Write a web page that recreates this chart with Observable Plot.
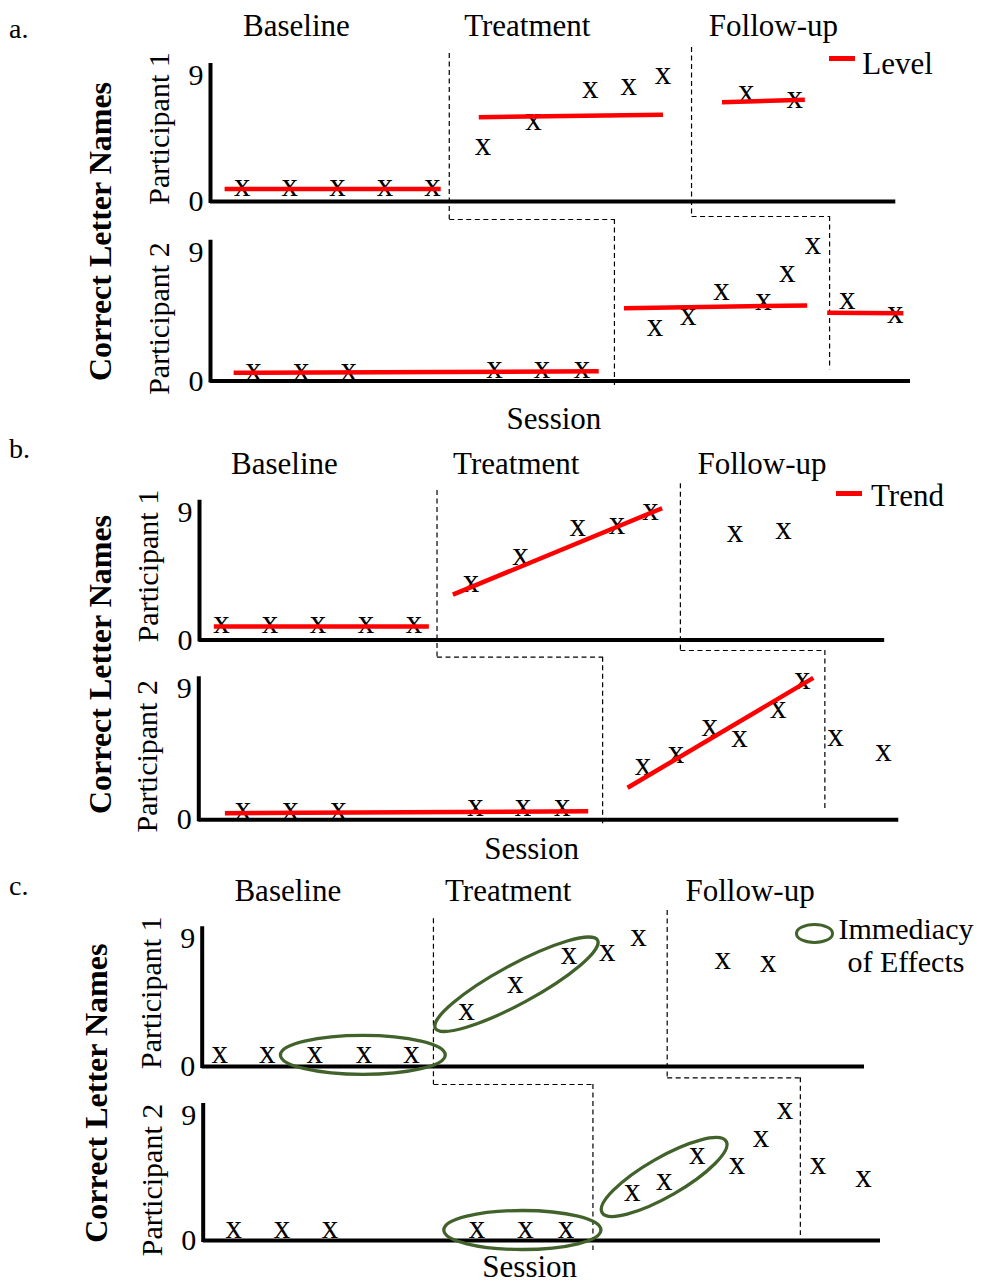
<!DOCTYPE html>
<html><head><meta charset="utf-8">
<script src="https://cdn.jsdelivr.net/npm/d3@7"></script>
<script src="https://cdn.jsdelivr.net/npm/@observablehq/plot@0.6"></script>
<style>
html,body{margin:0;padding:0;background:#fff;overflow:hidden;}
#fig{position:relative;width:985px;height:1283px;font-family:"Liberation Serif","Times New Roman",serif;color:#000;}
#fig svg{position:absolute;left:0;top:0;}
#fig svg text{font-family:"Liberation Serif","Times New Roman",serif;}
.lbl{position:absolute;white-space:nowrap;line-height:1;font-size:30px;}
</style></head><body>
<div id="fig">
  <div class="lbl" style="left:9px;top:14.9px;font-size:28px">a.</div>
  <div class="lbl" style="left:9px;top:434.9px;font-size:28px">b.</div>
  <div class="lbl" style="left:9px;top:871.6px;font-size:28px">c.</div>
  <div style="position:absolute;left:828.6px;top:56px;width:26.8px;height:4.5px;background:#ff0000"></div>
  <div class="lbl" style="left:862.3px;top:47.6px;font-size:31px">Level</div>
  <div style="position:absolute;left:836.2px;top:491px;width:26.1px;height:4.5px;background:#ff0000"></div>
  <div class="lbl" style="left:871px;top:479.9px;font-size:31px">Trend</div>
  <div style="position:absolute;left:795.2px;top:923.3px;width:39.3px;height:20.7px;border:3.3px solid #41622b;border-radius:50%;box-sizing:border-box"></div>
  <div style="position:absolute;left:906px;top:911.5px;transform:translateX(-50%);text-align:center;font-size:30px;line-height:33.4px;white-space:nowrap">Immediacy<br>of Effects</div>
</div>
<script>
// ---------- DATA ----------
const phaseNames = ["Baseline", "Treatment", "Follow-up"];
const yTicks = [0, 9];

// Panel a (Level): session position and correct letter names
const a1Session = [1, 2, 3, 4, 5, 6.06, 7.12, 8.31, 9.12, 9.84, 11.59, 12.61];
const a1Correct = [0.9, 0.9, 0.9, 0.9, 0.9, 3.88, 5.66, 7.93, 8.12, 8.93, 7.62, 7.21];
const a2Session = [1.24, 2.24, 3.24, 6.30, 7.30, 8.14, 9.67, 10.37, 11.07, 11.95, 12.45, 12.99, 13.71, 14.72];
const a2Correct = [0.61, 0.61, 0.61, 0.73, 0.73, 0.73, 3.65, 4.42, 6.21, 5.51, 7.42, 9.42, 5.58, 4.58];
const a1PhaseChange = [5.35, 10.44];
const a2PhaseChange = [8.82, 13.34];
const a1Level = [
  {x1: 0.63, y1: 0.9, x2: 5.17, y2: 0.9},
  {x1: 5.97, y1: 6.02, x2: 9.84, y2: 6.19},
  {x1: 11.08, y1: 7.09, x2: 12.82, y2: 7.26}
];
const a2Level = [
  {x1: 0.82, y1: 0.57, x2: 8.49, y2: 0.68},
  {x1: 9.02, y1: 5.09, x2: 12.87, y2: 5.28},
  {x1: 13.29, y1: 4.77, x2: 14.89, y2: 4.74}
];

// Panel b (Trend)
const b1Session = [1, 2.01, 3.01, 4.01, 5.01, 6.2, 7.23, 8.42, 9.24, 9.94, 11.7, 12.71];
const b1Correct = [1.02, 1.02, 1.02, 1.02, 1.02, 3.91, 5.79, 7.83, 7.99, 9.0, 7.41, 7.66];
const b2Session = [1.45, 2.44, 3.44, 6.29, 7.28, 8.1, 9.78, 10.47, 11.17, 11.79, 12.6, 13.1, 13.79, 14.79];
const b2Correct = [0.59, 0.59, 0.59, 0.76, 0.76, 0.76, 3.61, 4.42, 6.25, 5.49, 7.51, 9.52, 5.56, 4.53];
const b1PhaseChange = [5.49, 10.56];
const b2PhaseChange = [8.94, 13.57];
const b1Trend = [
  {x1: 0.84, y1: 0.95, x2: 5.32, y2: 0.95},
  {x1: 5.82, y1: 3.2, x2: 10.18, y2: 9.28}
];
const b2Trend = [
  {x1: 1.07, y1: 0.45, x2: 8.64, y2: 0.58},
  {x1: 9.46, y1: 2.2, x2: 13.33, y2: 9.75}
];

// Panel c (Immediacy of effects)
const c1Session = [1, 1.99, 2.98, 4.01, 5.0, 6.15, 7.17, 8.29, 9.09, 9.74, 11.5, 12.45];
const c1Correct = [0.78, 0.78, 0.78, 0.78, 0.78, 3.83, 5.71, 7.75, 7.98, 9.0, 7.42, 7.17];
const c2Session = [1.29, 2.3, 3.3, 6.37, 7.38, 8.23, 9.61, 10.28, 10.97, 11.8, 12.3, 12.8, 13.49, 14.44];
const c2Correct = [0.72, 0.72, 0.72, 0.72, 0.72, 0.72, 3.36, 4.2, 6.05, 5.33, 7.25, 9.31, 5.33, 4.37];
const c1PhaseChange = [5.46, 10.34];
const c2PhaseChange = [8.79, 13.12];
const c1Immediacy = [[2, 3, 4], [5, 6, 7]];   // indices of circled sessions
const c2Immediacy = [[3, 4, 5], [6, 7, 8]];

// ---------- LAYOUT ----------
const W = 985, H = 1283;
const green = "#41622b";
const layout = {
  a: {origin: 194.1, k: 47.6,
      rows: [{left: 210, right: 895.3, y9: 75, y0: 201}, {left: 210, right: 910, y9: 251.7, y0: 380.5}],
      headerX: [2.14, 6.99, 12.16], headerDy: -40, sessionX: 7.55, sessionDy: 47.5,
      ylabel: {dx: -100, dy: 30}, phaseTop: [-22, -28], conn: [18, 15], p2Bottom: [-4.5, 11.2]},
  b: {origin: 173, k: 48,
      rows: [{left: 199, right: 884.2, y9: 511.7, y0: 639.5}, {left: 198.3, right: 898.3, y9: 688.3, y0: 819.3}],
      headerX: [2.31, 7.14, 12.26], headerDy: -38.4, sessionX: 7.46, sessionDy: 39,
      ylabel: {dx: -89, dy: 24.5}, phaseTop: [-21.7, -28.4], conn: [17.2, 10.5], p2Bottom: [-4, 9.3]},
  c: {origin: 171.4, k: 47.9,
      rows: [{left: 201.7, right: 864, y9: 938.3, y0: 1066}, {left: 202.7, right: 880, y9: 1115, y0: 1240}],
      headerX: [2.42, 7.02, 12.07], headerDy: -38.3, sessionX: 7.47, sessionDy: 36.7,
      ylabel: {dx: -95.7, dy: 26.7}, phaseTop: [-20, -28.3], conn: [18, 11.3], p2Bottom: [-10, 5]}
};

const fig = document.getElementById("fig");
const toRows = (s, v) => s.map((d, i) => ({session: d, correct: v[i]}));

function rowPlot(L, rowIdx, data, lines, pcOwn, pcNext, immediacy) {
  const R = L.rows[rowIdx];
  const xd = [(R.left - L.origin) / L.k, (R.right - L.origin) / L.k];
  const dash = {stroke: "#000", strokeWidth: 1.2, strokeDasharray: "5,3.5"};
  const marks = [];
  if (rowIdx === 0) {
    pcOwn.forEach((b, i) => {
      marks.push(Plot.ruleX([b], {...dash, insetTop: L.phaseTop[i], insetBottom: -L.conn[i]}));
      marks.push(Plot.link([{from: b, to: pcNext[i]}], {x1: "from", x2: "to", y1: 0, y2: 0, dy: L.conn[i], ...dash}));
    });
  } else {
    const y0First = L.rows[0].y0;
    pcOwn.forEach((b, i) => {
      marks.push(Plot.ruleX([b], {...dash, insetTop: (y0First + L.conn[i]) - R.y9, insetBottom: L.p2Bottom[i]}));
    });
  }
  // axes lines
  marks.push(Plot.ruleY([0], {strokeWidth: 4}));
  marks.push(Plot.ruleX([xd[0]], {strokeWidth: 4, insetTop: -12, insetBottom: -2}));
  // data markers
  marks.push(Plot.text(data, {x: "session", y: "correct", text: () => "x", fontSize: 33, dy: -3}));
  if (lines) marks.push(Plot.link(lines, {x1: "x1", y1: "y1", x2: "x2", y2: "y2", stroke: "#ff0000", strokeWidth: 4.5}));
  // labels
  marks.push(Plot.text([`Participant ${rowIdx + 1}`], {frameAnchor: "left", textAnchor: "middle", rotate: -90, dx: -51, dy: rowIdx === 0 ? -10 : 2, fontSize: 30}));
  if (rowIdx === 0) {
    marks.push(Plot.text(phaseNames, {x: (d, i) => L.headerX[i], frameAnchor: "top", textAnchor: "middle", lineAnchor: "bottom", dy: L.headerDy, fontSize: 31}));
    marks.push(Plot.text(["Correct Letter Names"], {frameAnchor: "bottom-left", textAnchor: "middle", rotate: -90, dx: L.ylabel.dx, dy: L.ylabel.dy, fontSize: 32, fontWeight: "bold"}));
  } else {
    marks.push(Plot.text(["Session"], {x: () => L.sessionX, frameAnchor: "bottom", textAnchor: "middle", lineAnchor: "bottom", dy: L.sessionDy, fontSize: 31}));
  }
  const plot = Plot.plot({
    width: W, height: H,
    marginLeft: R.left, marginRight: W - R.right,
    marginTop: R.y9, marginBottom: H - R.y0,
    x: {domain: xd, axis: null},
    y: {domain: [0, 9], ticks: yTicks, tickSize: 0, tickPadding: 7, label: null},
    style: {background: "transparent", overflow: "visible", fontFamily: "'Liberation Serif','Times New Roman',serif", fontSize: "30px", color: "#000"},
    marks
  });
  if (immediacy) {
    const sx = plot.scale("x"), sy = plot.scale("y");
    const fx = sx.apply ? sx.apply : d3.scaleLinear(sx.domain, sx.range);
    const fy = sy.apply ? sy.apply : d3.scaleLinear(sy.domain, sy.range);
    const svg = d3.select(plot);
    immediacy.forEach(g => {
      const p = g.map(i => [fx(data[i].session), fy(data[i].correct)]);
      const cx = d3.mean(p, d => d[0]), cy = d3.mean(p, d => d[1]);
      const f = p[0], l = p[p.length - 1];
      const ang = Math.atan2(l[1] - f[1], l[0] - f[0]) * 180 / Math.PI;
      const half = Math.hypot(l[0] - f[0], l[1] - f[1]) / 2;
      svg.append("ellipse")
        .attr("cx", cx).attr("cy", cy).attr("rx", half + 34).attr("ry", 19.5)
        .attr("transform", `rotate(${ang} ${cx} ${cy})`)
        .attr("fill", "none").attr("stroke", green).attr("stroke-width", 3.3);
    });
  }
  fig.appendChild(plot);
}

rowPlot(layout.a, 0, toRows(a1Session, a1Correct), a1Level, a1PhaseChange, a2PhaseChange);
rowPlot(layout.a, 1, toRows(a2Session, a2Correct), a2Level, a2PhaseChange);
rowPlot(layout.b, 0, toRows(b1Session, b1Correct), b1Trend, b1PhaseChange, b2PhaseChange);
rowPlot(layout.b, 1, toRows(b2Session, b2Correct), b2Trend, b2PhaseChange);
rowPlot(layout.c, 0, toRows(c1Session, c1Correct), null, c1PhaseChange, c2PhaseChange, c1Immediacy);
rowPlot(layout.c, 1, toRows(c2Session, c2Correct), null, c2PhaseChange, null, c2Immediacy);
</script>
</body></html>
